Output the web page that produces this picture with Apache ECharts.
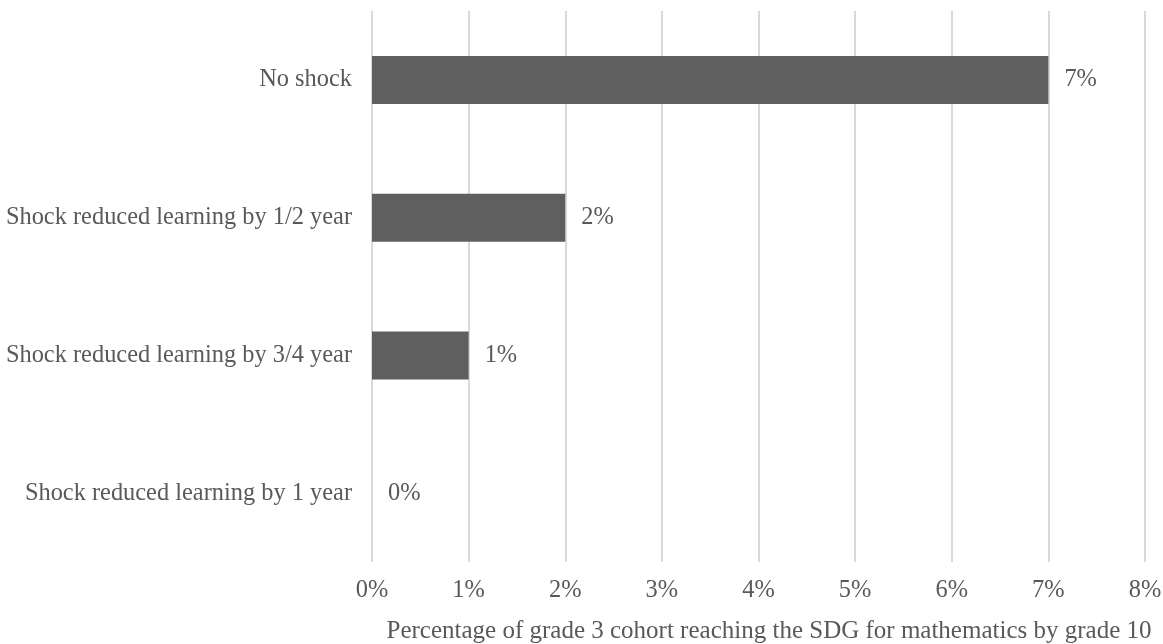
<!DOCTYPE html>
<html>
<head>
<meta charset="utf-8">
<script src="https://cdn.jsdelivr.net/npm/echarts@6/dist/echarts.min.js"></script>
<style>
  html, body { margin: 0; padding: 0; background: #ffffff; }
  #chart { width: 1163px; height: 644px; }
</style>
</head>
<body>
<div id="chart"></div>
<script>
// Scenario labels, listed top to bottom
const categories = [
  'No shock',
  'Shock reduced learning by 1/2 year',
  'Shock reduced learning by 3/4 year',
  'Shock reduced learning by 1 year'
];
// Share of the grade 3 cohort reaching the SDG by grade 10 (percent)
const values = [7, 2, 1, 0];
const axisTitle = 'Percentage of grade 3 cohort reaching the SDG for mathematics by grade 10';

const FONT = '"Liberation Serif", "Times New Roman", serif';
const TEXT = '#595959';
const SIZE = 24.4;

const chart = echarts.init(document.getElementById('chart'), null, { renderer: 'canvas' });
chart.setOption({
  animation: false,
  backgroundColor: '#ffffff',
  grid: {
    left: 372, right: 18, top: 11, bottom: 82,
    containLabel: false,
    outerBoundsMode: 'none'
  },
  xAxis: {
    type: 'value',
    min: 0,
    max: 8,
    interval: 1,
    name: axisTitle,
    nameLocation: 'middle',
    nameGap: 57,
    nameTextStyle: { fontFamily: FONT, fontSize: 25, color: TEXT, padding: [0, 0, 0, 21] },
    axisLine: { show: false },
    axisTick: { show: false },
    axisLabel: {
      margin: 17,
      fontFamily: FONT,
      fontSize: SIZE,
      color: TEXT,
      formatter: v => v + '%'
    },
    splitLine: { show: true, lineStyle: { color: '#d9d9d9', width: 2 } }
  },
  yAxis: {
    type: 'category',
    data: categories,
    inverse: true,
    axisLine: { show: false },
    axisTick: { show: false },
    axisLabel: {
      margin: 20,
      fontFamily: FONT,
      fontSize: SIZE,
      color: TEXT
    }
  },
  series: [{
    type: 'bar',
    data: values,
    barWidth: 48,
    itemStyle: { color: '#5f5f5f' },
    label: {
      show: true,
      position: 'right',
      distance: 16,
      fontFamily: FONT,
      fontSize: SIZE,
      color: TEXT,
      formatter: p => p.value + '%'
    }
  }]
});
</script>
</body>
</html>
